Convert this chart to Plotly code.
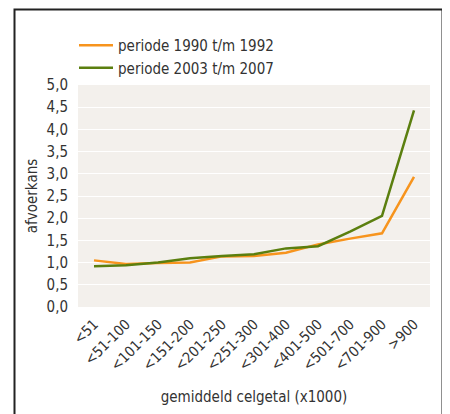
import plotly.graph_objects as go

categories = ["<51", "<51-100", "<101-150", "<151-200", "<201-250", "<251-300",
              "<301-400", "<401-500", "<501-700", "<701-900", ">900"]
periode_1990_1992 = [1.05, 0.97, 0.99, 1.00, 1.14, 1.15, 1.22, 1.41, 1.54, 1.66, 2.93]
periode_2003_2007 = [0.92, 0.94, 1.00, 1.10, 1.15, 1.19, 1.32, 1.37, 1.70, 2.05, 4.43]
y_ticks = [0, 0.5, 1, 1.5, 2, 2.5, 3, 3.5, 4, 4.5, 5]

FONT = "DejaVu Sans Condensed, Liberation Sans Narrow, sans-serif"
TXT = "#333333"
# page body has an 8px default margin, so the figure is 8px smaller and offset
W, H = 442, 406
L, R, T, B = 70, 20, 77, 107
pw, ph = W - L - R, H - T - B

fig = go.Figure()
fig.add_trace(go.Scatter(x=list(range(len(categories))), y=periode_1990_1992,
                         mode="lines", name="periode 1990 t/m 1992",
                         line=dict(color="#f7941d", width=2.5)))
fig.add_trace(go.Scatter(x=list(range(len(categories))), y=periode_2003_2007,
                         mode="lines", name="periode 2003 t/m 2007",
                         line=dict(color="#5b7f0f", width=2.5)))

fig.update_layout(
    width=W, height=H,
    margin=dict(l=L, r=R, t=T, b=B),
    paper_bgcolor="white", plot_bgcolor="#f3f0ec",
    separators=",.",
    font=dict(family=FONT, size=15, color=TXT),
    showlegend=True,
    legend=dict(x=(66 - L) / pw, y=(H - B - 21) / ph, xanchor="left", yanchor="top",
                bgcolor="rgba(0,0,0,0)", font=dict(size=15, color=TXT),
                tracegroupgap=0, itemwidth=34),
    xaxis=dict(range=[-0.5, 10.5], tickmode="array",
               tickvals=list(range(len(categories))), ticktext=categories,
               tickangle=-45, showgrid=False, zeroline=False, showline=False,
               ticks="outside", ticklen=2, tickcolor="rgba(0,0,0,0)",
               tickfont=dict(size=14.5, color=TXT), automargin=False,
               title=dict(text="gemiddeld celgetal (x1000)", font=dict(size=15, color=TXT), standoff=18)),
    yaxis=dict(range=[0, 5], tickmode="array", tickvals=y_ticks, tickformat=".1f",
               showgrid=True, gridcolor="white", gridwidth=1.2, zeroline=False,
               showline=False, ticks="outside", ticklen=6, tickcolor="rgba(0,0,0,0)",
               tickfont=dict(size=15, color=TXT), automargin=False,
               title=dict(text="afvoerkans", font=dict(size=15, color=TXT), standoff=5)),
)

fig.add_shape(type="rect", xref="paper", yref="paper",
              x0=(6.5 - L) / pw, x1=(434.5 - L) / pw,
              y0=(H - B - 420) / ph, y1=(H - B - 1.5) / ph,
              line=dict(color="#222222", width=2), fillcolor="rgba(0,0,0,0)", layer="below")

fig.write_html("out.html")
